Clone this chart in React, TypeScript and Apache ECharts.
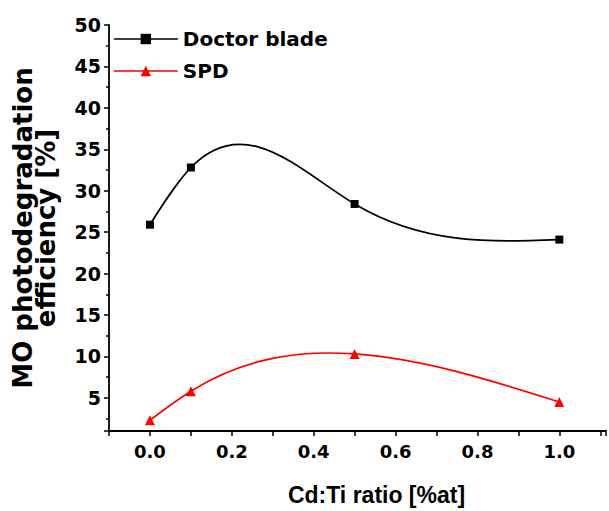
import React, { useEffect, useRef } from "react";
import * as echarts from "echarts";

const xRatio = [0.0, 0.1, 0.5, 1.0];
const doctorBlade = [25.9, 32.8, 28.4, 24.1];
const spd = [2.3, 5.8, 10.3, 4.5];
const seriesNames = ["Doctor blade", "SPD"];
const xTitle = "Cd:Ti ratio [%at]";
const yTitle = "MO photodegradation\nefficiency [%]";

// natural cubic spline second derivatives (the curve type used by the original plot)
function splineSecondDerivs(xs: number[], ys: number[]): number[] {
  const n = xs.length;
  const M = new Array(n).fill(0);
  if (n < 3) return M;
  const h: number[] = [];
  for (let i = 0; i < n - 1; i++) h.push(xs[i + 1] - xs[i]);
  const a: number[] = [], b: number[] = [], c: number[] = [], r: number[] = [];
  for (let i = 1; i < n - 1; i++) {
    a.push(h[i - 1]);
    b.push(2 * (h[i - 1] + h[i]));
    c.push(h[i]);
    r.push(6 * ((ys[i + 1] - ys[i]) / h[i] - (ys[i] - ys[i - 1]) / h[i - 1]));
  }
  const m = b.length;
  for (let i = 1; i < m; i++) {
    const w = a[i] / b[i - 1];
    b[i] -= w * c[i - 1];
    r[i] -= w * r[i - 1];
  }
  const sol = new Array(m).fill(0);
  sol[m - 1] = r[m - 1] / b[m - 1];
  for (let i = m - 2; i >= 0; i--) sol[i] = (r[i] - c[i] * sol[i + 1]) / b[i];
  for (let i = 0; i < m; i++) M[i + 1] = sol[i];
  return M;
}

function splineRender(xs: number[], ys: number[], color: string) {
  const M = splineSecondDerivs(xs, ys);
  return (params: any, api: any) => {
    if (params.dataIndex !== 0) return null;
    const children: any[] = [];
    for (let i = 0; i < xs.length - 1; i++) {
      const h = xs[i + 1] - xs[i];
      const d = (ys[i + 1] - ys[i]) / h;
      const s0 = d - (h * (2 * M[i] + M[i + 1])) / 6;
      const s1 = d + (h * (M[i] + 2 * M[i + 1])) / 6;
      const p0 = api.coord([xs[i], ys[i]]);
      const p1 = api.coord([xs[i] + h / 3, ys[i] + (h * s0) / 3]);
      const p2 = api.coord([xs[i + 1] - h / 3, ys[i + 1] - (h * s1) / 3]);
      const p3 = api.coord([xs[i + 1], ys[i + 1]]);
      children.push({
        type: "bezierCurve",
        shape: {
          x1: p0[0], y1: p0[1],
          cpx1: p1[0], cpy1: p1[1],
          cpx2: p2[0], cpy2: p2[1],
          x2: p3[0], y2: p3[1],
        },
        style: { stroke: color, fill: null, lineWidth: 1.7 },
      });
    }
    return { type: "group", children };
  };
}

export default function App() {
  const ref = useRef<HTMLDivElement>(null);
  useEffect(() => {
    if (!ref.current) return;
    const chart = echarts.init(ref.current, null, { renderer: "svg" });
    const pts = (ys: number[]) => xRatio.map((x, i) => [x, ys[i]]);
    const axisLineStyle = { color: "#000", width: 1.8 };
    chart.setOption({
      animation: false,
      backgroundColor: "#fff",
      grid: { left: 109, right: 0, top: 25, bottom: 79, containLabel: false },
      legend: {
        data: seriesNames,
        orient: "vertical",
        left: 108,
        top: 23,
        itemWidth: 64,
        itemHeight: 13,
        itemGap: 10,
        lineStyle: { opacity: 1, width: 1.7 },
        textStyle: {
          fontFamily: "DejaVu Sans",
          fontWeight: "bold",
          fontSize: 20,
          lineHeight: 22,
          color: "#000",
        },
      },
      xAxis: {
        type: "value",
        min: -0.1,
        max: 1.114,
        interval: 0.1,
        name: xTitle,
        nameLocation: "middle",
        nameGap: 52,
        nameTextStyle: {
          fontFamily: "Liberation Sans",
          fontWeight: "bold",
          fontSize: 23,
          color: "#000",
          padding: [0, 0, 0, 38],
        },
        axisLine: { show: true, onZero: false, lineStyle: axisLineStyle },
        axisTick: { show: true, length: 5, lineStyle: { color: "#000", width: 1.5 } },
        splitLine: { show: false },
        axisLabel: {
          margin: 11,
          fontFamily: "DejaVu Sans",
          fontWeight: "bold",
          fontSize: 18,
          color: "#000",
          formatter: (v: number) => {
            const k = Math.round(v * 10);
            return k >= 0 && k <= 10 && k % 2 === 0 && Math.abs(v * 10 - k) < 1e-6
              ? (k / 10).toFixed(1)
              : "";
          },
        },
      },
      yAxis: {
        type: "value",
        min: 1,
        max: 50,
        splitNumber: 10,
        name: yTitle,
        nameLocation: "middle",
        nameGap: 52,
        nameTextStyle: {
          fontFamily: "DejaVu Sans",
          fontWeight: "bold",
          fontSize: 26,
          lineHeight: 23,
          color: "#000",
        },
        axisLine: { show: true, onZero: false, lineStyle: axisLineStyle },
        axisTick: { show: true, length: 5, lineStyle: { color: "#000", width: 1.5 } },
        minorTick: { show: true, splitNumber: 2, length: 3, lineStyle: { color: "#000", width: 1.5 } },
        splitLine: { show: false },
        minorSplitLine: { show: false },
        axisLabel: {
          margin: 8,
          fontFamily: "DejaVu Sans",
          fontWeight: "bold",
          fontSize: 19,
          color: "#000",
          formatter: (v: number) => (Math.abs(v % 5) < 1e-6 ? String(v) : ""),
        },
      },
      series: [
        {
          type: "custom",
          name: "curve-db",
          data: pts(doctorBlade),
          renderItem: splineRender(xRatio, doctorBlade, "#000"),
          clip: false,
          silent: true,
          z: 1,
        },
        {
          type: "custom",
          name: "curve-spd",
          data: pts(spd),
          renderItem: splineRender(xRatio, spd, "#ff0000"),
          clip: false,
          silent: true,
          z: 1,
        },
        {
          type: "line",
          name: seriesNames[0],
          data: pts(doctorBlade),
          symbol: "rect",
          symbolSize: 8,
          showSymbol: true,
          itemStyle: { color: "#000" },
          lineStyle: { color: "#000", width: 1.7, opacity: 0 },
          z: 3,
        },
        {
          type: "line",
          name: seriesNames[1],
          data: pts(spd),
          symbol: "triangle",
          symbolSize: 10,
          showSymbol: true,
          itemStyle: { color: "#ff0000" },
          lineStyle: { color: "#ff0000", width: 1.7, opacity: 0 },
          z: 3,
        },
      ],
    });
    return () => chart.dispose();
  }, []);
  return (
    <div
      ref={ref}
      style={{ position: "fixed", left: 0, top: 0, width: 609, height: 511, background: "#fff" }}
    />
  );
}
